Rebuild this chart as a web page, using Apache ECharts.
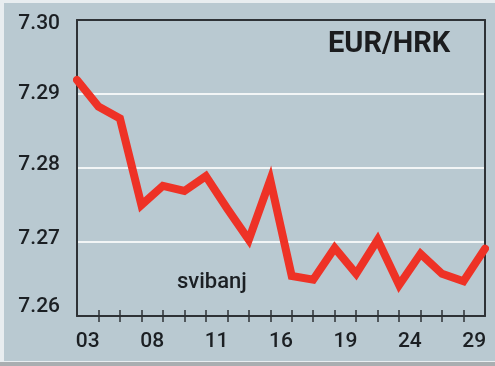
<!DOCTYPE html>
<html><head><meta charset="utf-8">
<script src="https://cdn.jsdelivr.net/npm/echarts@6/dist/echarts.min.js"></script>
<style>
html,body{margin:0;padding:0;width:495px;height:366px;overflow:hidden;background:#e8edf0;}
#bg{position:absolute;left:4px;top:3px;width:491px;height:358px;background:#b9c9d1;}
#sh{position:absolute;left:0;top:362px;width:495px;height:4px;background:#a9aeb1;}
#c{position:absolute;left:4px;top:3px;width:491px;height:358px;}
</style></head>
<body><div id="bg"></div><div id="sh"></div><div id="c"></div>
<script>
// 20 trading days (positions of the points)
var days = ['1','2','3','4','5','6','7','8','9','10','11','12','13','14','15','16','17','18','19','20'];
var rates = [7.2919, 7.2883, 7.2867, 7.2750, 7.2776, 7.2769, 7.2789, 7.2745, 7.2703, 7.2784,
             7.2654, 7.2649, 7.2692, 7.2657, 7.2703, 7.2642, 7.2684, 7.2657, 7.2647, 7.2691];
var tickLabels = ['03','08','11','16','19','24','29'];
var yTicks = [7.26, 7.27, 7.28, 7.29, 7.30];

var gaps = [];
for (var i = 0; i < days.length - 1; i++) {
  gaps.push(i % 3 === 0 ? (tickLabels[i / 3] || '') : '');
}
var skipEnds = function (idx) { return idx > 0 && idx < days.length - 1; };
var dark = '#2e3236';
var font = 'Roboto, "DejaVu Sans", sans-serif';
var labelStyle = ['t', 'm', 'a', 'a', 'b']; // label nudges from top (7.30) to bottom (7.26)

var chart = echarts.init(document.getElementById('c'));
chart.setOption({
  animation: false,
  grid: {left: 73, top: 17, width: 408, height: 296, containLabel: false},
  xAxis: [
    {type: 'category', data: days, boundaryGap: false, position: 'bottom',
     axisLine: {show: true, lineStyle: {color: dark, width: 2}},
     axisTick: {show: true, inside: true, length: 6, interval: skipEnds, lineStyle: {color: dark, width: 1.5}},
     axisLabel: {show: false}, splitLine: {show: false}},
    {type: 'category', data: days, boundaryGap: false, position: 'bottom',
     axisLine: {show: false},
     axisTick: {show: true, inside: false, length: 6, interval: skipEnds, lineStyle: {color: dark, width: 1.5}},
     axisLabel: {show: false}, splitLine: {show: false}},
    {type: 'category', data: gaps, boundaryGap: true, position: 'bottom',
     axisLine: {show: false}, axisTick: {show: false},
     axisLabel: {show: true, interval: 0, margin: 15, color: '#1b1f23', fontSize: 21, fontWeight: 500, fontFamily: font},
     splitLine: {show: false}},
    {type: 'category', data: days, boundaryGap: false, position: 'top',
     axisLine: {show: true, lineStyle: {color: dark, width: 2}},
     axisTick: {show: false}, axisLabel: {show: false}, splitLine: {show: false}}
  ],
  yAxis: [
    {type: 'value', min: yTicks[0], max: yTicks[yTicks.length - 1], interval: 0.01, position: 'left',
     axisLine: {show: true, lineStyle: {color: dark, width: 2}},
     axisTick: {show: false},
     axisLabel: {show: true, margin: 17, color: '#1b1f23', fontSize: 21, fontWeight: 500, fontFamily: font,
                 formatter: function (v) {
                   var k = Math.round((yTicks[yTicks.length - 1] - v) * 100);
                   return '{' + labelStyle[k] + '|' + v.toFixed(2) + '}';
                 },
                 rich: {
                   t: {padding: [8, 0, 0, 0]},
                   m: {padding: [0, 0, 0, 0]},
                   a: {padding: [0, 0, 6, 0]},
                   b: {padding: [0, 0, 18, 0]}
                 }},
     splitLine: {show: true, showMinLine: false, showMaxLine: false, lineStyle: {color: '#f2f5f6', width: 2}}},
    {type: 'value', min: yTicks[0], max: yTicks[yTicks.length - 1], interval: 0.01, position: 'right',
     axisLine: {show: true, lineStyle: {color: dark, width: 2}},
     axisTick: {show: false}, axisLabel: {show: false}, splitLine: {show: false}}
  ],
  series: [{
    type: 'line', data: rates, xAxisIndex: 0, yAxisIndex: 0,
    symbol: 'none', smooth: false,
    lineStyle: {color: '#ee3226', width: 8, join: 'miter', miterLimit: 6, cap: 'round'},
    z: 5
  }],
  graphic: [
    {type: 'text', left: 324, top: 27,
     style: {text: 'EUR/HRK', fill: '#1b1c1e', font: 'bold 29px ' + font}},
    {type: 'text', left: 173, top: 268,
     style: {text: 'svibanj', fill: '#1b1f23', font: '500 22px ' + font}}
  ]
});
</script>
</body></html>
